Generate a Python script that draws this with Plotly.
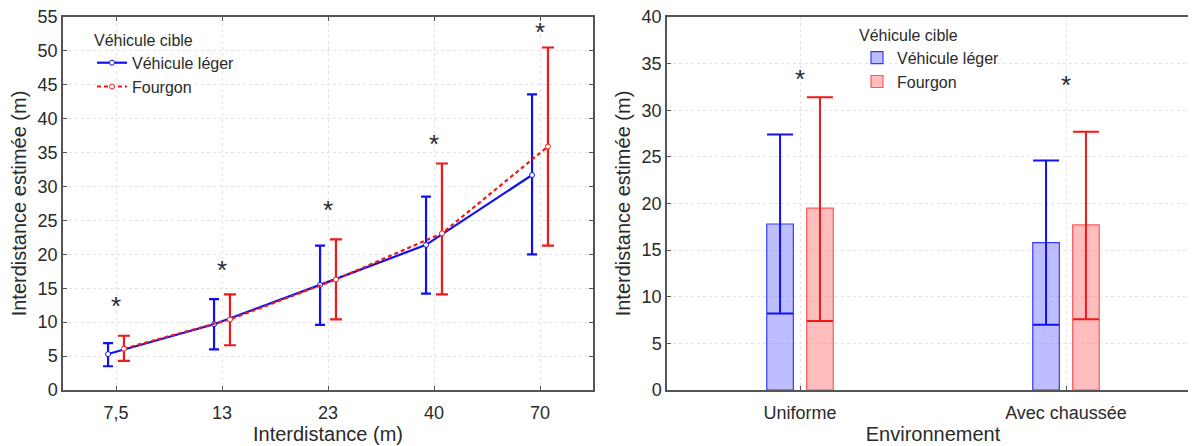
import plotly.graph_objects as go

# ---------------- data ----------------
distances = ["7,5", "13", "23", "40", "70"]
vl_mean = [5.3, 9.7, 15.5, 21.4, 31.7]
vl_high = [6.9, 13.4, 21.3, 28.5, 43.6]
vl_low = [3.5, 6.0, 9.6, 14.2, 20.0]
fg_mean = [6.1, 10.4, 16.3, 23.1, 35.9]
fg_high = [8.0, 14.1, 22.2, 33.4, 50.5]
fg_low = [4.3, 6.6, 10.4, 14.1, 21.3]
star_left = [12.9, 18.2, 27.0, 36.7, 53.2]

environments = ["Uniforme", "Avec chaussée"]
env_vl_mean = [17.8, 15.8]
env_vl_high = [27.4, 24.6]
env_vl_low = [8.2, 7.0]
env_fg_mean = [19.5, 17.7]
env_fg_high = [31.4, 27.7]
env_fg_low = [7.4, 7.6]
star_right = [33.7, 33.0]

series_names = ["Véhicule léger", "Fourgon"]
legend_title = "Véhicule cible"

BLUE = "#1010f0"
RED = "#f01818"
FONT = "Liberation Sans, Arial, sans-serif"
TXT = "#2a2a2a"

W, H = 1196, 446
PAGE = 8  # default page margin around the figure


def px_x(p):
    return (p - PAGE) / W


def px_y(p):
    return 1 - (p - PAGE) / H


fig = go.Figure()

# ---------------- left panel ----------------
idx = list(range(len(distances)))
off = 0.075
xb = [i - off for i in idx]
xr = [i + off for i in idx]

fig.add_trace(go.Scatter(
    x=xb, y=vl_mean, name=series_names[0], mode="lines+markers",
    line=dict(color=BLUE, width=2.2),
    marker=dict(size=5, color="white", line=dict(color=BLUE, width=1)),
    error_y=dict(type="data", symmetric=False,
                 array=[h - m for h, m in zip(vl_high, vl_mean)],
                 arrayminus=[m - l for m, l in zip(vl_mean, vl_low)],
                 color=BLUE, thickness=2.2, width=5),
    xaxis="x", yaxis="y", legend="legend"))
fig.add_trace(go.Scatter(
    x=xr, y=fg_mean, name=series_names[1], mode="lines+markers",
    line=dict(color=RED, width=2.2, dash="4px,3px"),
    marker=dict(size=5, color="white", line=dict(color=RED, width=1)),
    error_y=dict(type="data", symmetric=False,
                 array=[h - m for h, m in zip(fg_high, fg_mean)],
                 arrayminus=[m - l for m, l in zip(fg_mean, fg_low)],
                 color=RED, thickness=2.2, width=6),
    xaxis="x", yaxis="y", legend="legend"))

# ---------------- right panel ----------------
fig.add_trace(go.Bar(
    x=environments, y=env_vl_mean, name=series_names[0],
    width=0.1, offset=-0.125,
    marker=dict(color="rgba(90,90,255,0.40)", line=dict(color="#3a3aff", width=1.2)),
    error_y=dict(type="data", symmetric=False,
                 array=[h - m for h, m in zip(env_vl_high, env_vl_mean)],
                 arrayminus=[m - l for m, l in zip(env_vl_mean, env_vl_low)],
                 color=BLUE, thickness=2, width=13),
    xaxis="x2", yaxis="y2", legend="legend2"))
fig.add_trace(go.Bar(
    x=environments, y=env_fg_mean, name=series_names[1],
    width=0.1, offset=0.025,
    marker=dict(color="rgba(255,90,90,0.40)", line=dict(color="#ff5a5a", width=1.2)),
    error_y=dict(type="data", symmetric=False,
                 array=[h - m for h, m in zip(env_fg_high, env_fg_mean)],
                 arrayminus=[m - l for m, l in zip(env_fg_mean, env_fg_low)],
                 color=RED, thickness=2, width=13),
    xaxis="x2", yaxis="y2", legend="legend2"))

# asterisks
for i, v in enumerate(star_left):
    fig.add_annotation(x=i, y=v, xref="x", yref="y", text="*", showarrow=False,
                       font=dict(size=26, color=TXT, family=FONT), yshift=-3)
for c, v in zip(environments, star_right):
    fig.add_annotation(x=c, y=v, xref="x2", yref="y2", text="*", showarrow=False,
                       font=dict(size=26, color=TXT, family=FONT), yshift=-3)

ydom = [px_y(390), px_y(17)]
axis_common = dict(showline=True, linecolor="#555555", linewidth=1.5,
                   ticks="inside", ticklen=4, tickcolor="#555555",
                   showgrid=True, gridcolor="#e4e4e4", griddash="dot",
                   zeroline=False, automargin=False, ticklabeloverflow="allow",
                   tickfont=dict(size=18, color=TXT, family=FONT))
title_font = dict(size=20, color=TXT, family=FONT)

fig.update_layout(
    width=W, height=H,
    margin=dict(l=0, r=0, t=0, b=0),
    paper_bgcolor="white", plot_bgcolor="white",
    font=dict(family=FONT, color=TXT),
    barmode="overlay",
    xaxis=dict(axis_common, domain=[px_x(63), px_x(593)], range=[-0.5, 4.5], anchor="y",
               tickvals=idx, ticktext=distances, mirror="ticks", ticklabelstandoff=6,
               title=dict(text="Interdistance (m)", font=title_font, standoff=4)),
    yaxis=dict(axis_common, domain=ydom, range=[0, 55], dtick=5, mirror="ticks", anchor="x",
               title=dict(text="Interdistance estimée (m)", font=title_font, standoff=6)),
    xaxis2=dict(axis_common, domain=[px_x(667), px_x(1199)], range=[-0.5, 1.5], anchor="y2",
                mirror=True, type="category", ticklabelstandoff=6,
                tickfont=dict(size=18, color=TXT, family=FONT),
                title=dict(text="Environnement", font=title_font, standoff=5)),
    yaxis2=dict(axis_common, domain=ydom, range=[0, 40], dtick=5, mirror=False, anchor="x2",
                title=dict(text="Interdistance estimée (m)", font=title_font, standoff=6)),
    legend=dict(x=px_x(92), y=px_y(25), xanchor="left", yanchor="top",
                bgcolor="rgba(0,0,0,0)", title=dict(text=legend_title, font=dict(size=16, color=TXT)),
                font=dict(size=16, color=TXT, family=FONT), tracegroupgap=0, itemwidth=30),
    legend2=dict(x=px_x(857), y=px_y(20), xanchor="left", yanchor="top",
                 bgcolor="rgba(0,0,0,0)", title=dict(text=legend_title, font=dict(size=16, color=TXT)),
                 font=dict(size=16, color=TXT, family=FONT), tracegroupgap=0, itemwidth=30),
    showlegend=True,
)

fig.write_html("out.html")
